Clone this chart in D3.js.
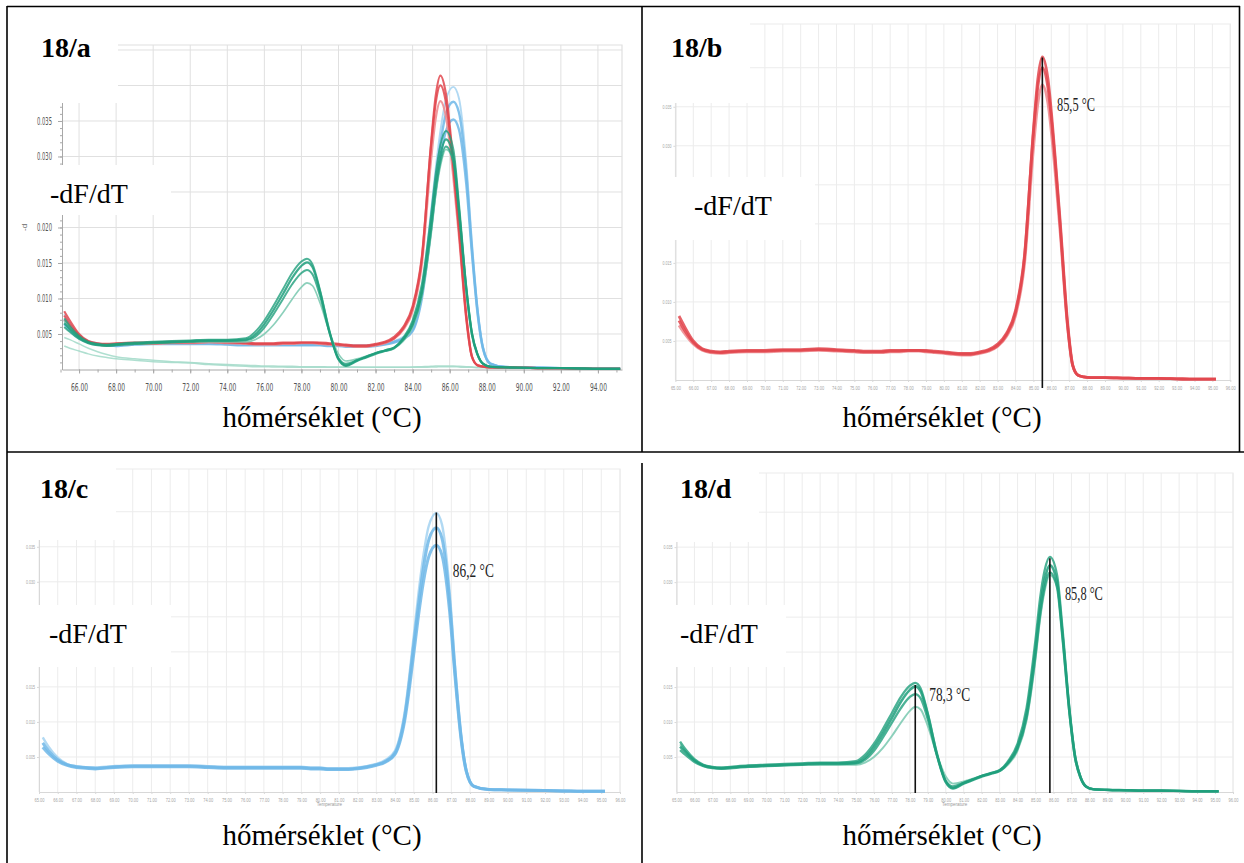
<!DOCTYPE html>
<html lang="hu">
<head>
<meta charset="utf-8" />
<style>
body { margin: 0; background: #fff; }
svg { display: block; }
</style>
</head>
<body>
<script src="https://cdn.jsdelivr.net/npm/d3@7"></script>
<script>
// temperature points (°C) shared by all melt curves
var temps = [65.2, 65.5, 66, 66.5, 67, 67.5, 68,
             69, 70, 71, 72, 73, 74, 75,
             75.5, 76, 76.5, 77, 77.5, 78,
             78.3, 78.6, 79, 79.5, 80,
             80.4, 81, 81.5, 82, 82.5, 83,
             83.5, 84, 84.5, 85, 85.25,
             85.5, 85.8, 86.2, 86.5, 86.9, 87.2,
             87.5, 87.8, 88.2, 89, 90, 91, 92, 93, 94, 95.2];

// -dF/dT values, in units of 0.001
var red1 = [7.6, 6.4, 4.8, 3.9, 3.6, 3.5, 3.6,
            3.7, 3.7, 3.8, 3.8, 3.9, 3.8, 3.7,
            3.6, 3.6, 3.6, 3.7, 3.7, 3.8,
            3.8, 3.8, 3.7, 3.6, 3.5,
            3.4, 3.3, 3.3, 3.5, 3.8, 4.4,
            5.8, 8.6, 15.6, 32.0, 38.6,
            41.4, 38.8, 29.0, 20.2, 7.6, 1.9,
            0.6, 0.4, 0.3, 0.3, 0.25, 0.2, 0.2, 0.15, 0.1, 0.1];
var red2 = [8.2, 6.9, 5.0, 4.0, 3.7, 3.6, 3.7,
            3.8, 3.8, 3.9, 3.9, 4.0, 3.9, 3.8,
            3.7, 3.7, 3.7, 3.8, 3.8, 3.8,
            3.8, 3.8, 3.8, 3.7, 3.6,
            3.5, 3.4, 3.4, 3.6, 3.9, 4.6,
            6.0, 8.9, 15.9, 31.6, 37.6,
            40.0, 37.6, 28.4, 19.6, 7.2, 1.8,
            0.6, 0.4, 0.3, 0.3, 0.25, 0.2, 0.2, 0.15, 0.1, 0.1];
var red3 = [7.0, 6.0, 4.6, 3.8, 3.5, 3.4, 3.5,
            3.6, 3.6, 3.7, 3.7, 3.8, 3.7, 3.6,
            3.5, 3.5, 3.5, 3.6, 3.6, 3.7,
            3.7, 3.7, 3.6, 3.5, 3.4,
            3.3, 3.2, 3.2, 3.4, 3.7, 4.3,
            5.6, 8.2, 14.8, 29.6, 35.4,
            37.8, 35.6, 27.0, 18.8, 7.0, 1.8,
            0.6, 0.4, 0.3, 0.3, 0.25, 0.2, 0.2, 0.15, 0.1, 0.1];

var blue1 = [7.0, 5.9, 4.6, 3.9, 3.6, 3.5, 3.4,
             3.6, 3.7, 3.7, 3.7, 3.7, 3.6, 3.5,
             3.5, 3.5, 3.5, 3.5, 3.5, 3.5,
             3.5, 3.5, 3.5, 3.4, 3.4,
             3.3, 3.3, 3.3, 3.4, 3.6, 3.9,
             4.4, 5.6, 10.6, 21.2, 26.8,
             31.8, 36.0, 37.7, 36.2, 27.6, 17.2,
             8.4, 3.0, 0.8, 0.35, 0.3, 0.25, 0.2, 0.15, 0.1, 0.1];
var blue2 = [7.8, 6.5, 4.9, 4.0, 3.7, 3.5, 3.5,
             3.7, 3.8, 3.8, 3.8, 3.8, 3.7, 3.6,
             3.6, 3.6, 3.6, 3.6, 3.6, 3.6,
             3.6, 3.6, 3.6, 3.5, 3.5,
             3.4, 3.4, 3.4, 3.5, 3.7, 4.0,
             4.6, 5.9, 11.2, 22.4, 28.4,
             33.6, 38.0, 39.8, 38.2, 29.0, 18.0,
             8.8, 3.2, 0.9, 0.35, 0.3, 0.25, 0.2, 0.15, 0.1, 0.1];
var blue3 = [6.4, 5.5, 4.4, 3.8, 3.5, 3.4, 3.3,
             3.5, 3.6, 3.6, 3.6, 3.6, 3.5, 3.4,
             3.4, 3.4, 3.4, 3.4, 3.4, 3.4,
             3.4, 3.4, 3.4, 3.3, 3.3,
             3.2, 3.2, 3.2, 3.3, 3.5, 3.8,
             4.3, 5.4, 10.0, 19.8, 25.2,
             29.8, 33.6, 35.2, 33.8, 26.0, 16.4,
             8.0, 2.9, 0.8, 0.35, 0.3, 0.25, 0.2, 0.15, 0.1, 0.1];

var green1 = [6.5, 5.7, 4.5, 3.8, 3.5, 3.4, 3.5,
              3.7, 3.8, 3.9, 4.0, 4.1, 4.1, 4.2,
              4.9, 6.4, 8.4, 10.6, 12.9, 14.6,
              15.1, 14.4, 11.0, 5.4, 1.4,
              0.5, 1.2, 1.7, 2.2, 2.6, 3.0,
              4.3, 6.5, 11.2, 20.6, 26.2,
              30.2, 32.4, 30.0, 22.6, 11.2, 5.0,
              2.1, 0.8, 0.4, 0.3, 0.25, 0.2, 0.2, 0.15, 0.1, 0.1];
var green2 = [7.2, 6.1, 4.7, 3.9, 3.6, 3.5, 3.6,
              3.8, 3.9, 4.0, 4.1, 4.2, 4.2, 4.4,
              5.3, 6.9, 9.0, 11.3, 13.6, 15.2,
              15.6, 14.8, 11.2, 5.6, 1.5,
              0.6, 1.3, 1.8, 2.3, 2.7, 3.1,
              4.5, 6.9, 12.0, 21.8, 27.6,
              31.6, 33.6, 31.0, 23.4, 11.6, 5.2,
              2.2, 0.8, 0.4, 0.3, 0.25, 0.2, 0.2, 0.15, 0.1, 0.1];
var green3 = [6.0, 5.3, 4.3, 3.7, 3.4, 3.3, 3.4,
              3.6, 3.7, 3.8, 3.9, 4.0, 4.0, 4.1,
              4.6, 5.9, 7.8, 9.9, 12.0, 13.6,
              14.0, 13.4, 10.4, 5.3, 1.6,
              0.8, 1.3, 1.8, 2.3, 2.7, 3.1,
              4.2, 6.2, 10.6, 19.6, 25.2,
              29.2, 31.4, 29.2, 22.0, 11.0, 4.9,
              2.1, 0.8, 0.4, 0.3, 0.25, 0.2, 0.2, 0.15, 0.1, 0.1];
var green4 = [6.8, 5.8, 4.5, 3.8, 3.5, 3.4, 3.5,
              3.6, 3.7, 3.8, 3.9, 3.9, 3.9, 3.9,
              4.2, 5.0, 6.3, 8.0, 9.9, 11.6,
              12.2, 11.8, 9.4, 5.4, 2.2,
              1.2, 1.5, 1.9, 2.3, 2.6, 3.0,
              4.0, 5.9, 10.2, 19.0, 24.6,
              28.6, 31.0, 29.4, 22.8, 11.8, 5.4,
              2.3, 0.9, 0.4, 0.3, 0.25, 0.2, 0.2, 0.15, 0.1, 0.1];

// two faint, almost flat green traces only seen in 18/a
var greenFaint1 = [4.5, 4.2, 3.6, 3.0, 2.5, 2.1, 1.8,
                   1.5, 1.3, 1.1, 1.0, 0.8, 0.7, 0.6,
                   0.55, 0.5, 0.5, 0.45, 0.45, 0.4,
                   0.4, 0.4, 0.4, 0.35, 0.35,
                   0.35, 0.35, 0.3, 0.3, 0.3, 0.3,
                   0.3, 0.35, 0.4, 0.45, 0.5,
                   0.5, 0.5, 0.5, 0.45, 0.4, 0.35,
                   0.3, 0.3, 0.25, 0.2, 0.2, 0.2, 0.15, 0.15, 0.1, 0.1];
var greenFaint2 = [3.3, 3.0, 2.6, 2.2, 1.9, 1.7, 1.5,
                   1.3, 1.1, 1.0, 0.9, 0.7, 0.55, 0.45,
                   0.4, 0.4, 0.35, 0.35, 0.3, 0.3,
                   0.3, 0.3, 0.3, 0.3, 0.3,
                   0.3, 0.3, 0.3, 0.3, 0.3, 0.3,
                   0.3, 0.3, 0.3, 0.35, 0.35,
                   0.4, 0.4, 0.4, 0.35, 0.3, 0.3,
                   0.25, 0.25, 0.2, 0.2, 0.2, 0.15, 0.15, 0.1, 0.1, 0.1];

// melting peaks marked in 18/b-d
var peaksB = [{ t: 85.5, top: 41.3, label: "85,5 °C" }];
var peaksC = [{ t: 86.2, top: 39.9, label: "86,2 °C" }];
var peaksD = [{ t: 78.3, top: 15.3, label: "78,3 °C" },
              { t: 85.8, top: 33.4, label: "85,8 °C" }];

var panelLabels = ["18/a", "18/b", "18/c", "18/d"];
var yLabel = "-dF/dT";
var xLabel = "hőmérséklet (°C)";

// tick values (grid lines) and the tick labels that are left visible
var xTicksA = d3.range(66, 95, 2);
var xTicksFine = d3.range(65, 97, 1);
var yGridA = [5, 10, 15, 20, 25, 30, 35, 40, 45];
var yLabelsA = [5, 10, 15, 20, 30, 35];
var yGridFine = [5, 10, 15, 20, 25, 30, 35, 40];
var yLabelsFine = [5, 10, 15, 30, 35];

var SERIF = "Liberation Serif, Times New Roman, DejaVu Serif, serif";
var RED = "#e2464d", RED_L = "#ef8d91",
    BLUE = "#6fb7e7", BLUE_L = "#a8d5f2",
    GREEN = "#1f9f7c", GREEN_L = "#7fcbb4", GREEN_F = "#a6dccb";

function redSeries(w) {
  return [{ v: red3, c: RED_L, w: w, o: 0.9 },
          { v: red2, c: RED, w: w, o: 0.85 },
          { v: red1, c: RED, w: w, o: 0.85 }];
}
function blueSeries(w) {
  return [{ v: blue2, c: BLUE_L, w: w * 0.8, o: 0.9 },
          { v: blue3, c: BLUE, w: w, o: 0.85 },
          { v: blue1, c: BLUE, w: w, o: 0.85 }];
}
function greenSeries(w) {
  return [{ v: green4, c: GREEN_L, w: w * 0.75, o: 0.9 },
          { v: green3, c: GREEN, w: w * 0.9, o: 0.8 },
          { v: green1, c: GREEN, w: w, o: 0.85 },
          { v: green2, c: GREEN, w: w * 0.9, o: 0.8 }];
}
var faintSeries = [
  { v: greenFaint1, c: GREEN_F, w: 1.5, o: 0.9 },
  { v: greenFaint2, c: GREEN_F, w: 1.5, o: 0.9 }
];

var W = 1244, H = 863;
var svg = d3.select("body").append("svg").attr("width", W).attr("height", H);
svg.append("rect").attr("width", W).attr("height", H).attr("fill", "#fff");

function drawPanel(p) {
  var g = svg.append("g");
  var x = d3.scaleLinear().domain(p.xDomain).range(p.xRange);
  var y = d3.scaleLinear().domain(p.yDomain).range(p.yRange);
  var x0 = p.xRange[0], x1 = p.xRange[1], yb = p.yRange[0], yt = p.yRange[1];

  // grid
  g.append("g").selectAll("line").data(p.xGrid).join("line")
    .attr("x1", function (d) { return x(d); }).attr("x2", function (d) { return x(d); })
    .attr("y1", yt).attr("y2", yb)
    .attr("stroke", p.gridColor).attr("stroke-width", 1);
  g.append("g").selectAll("line").data(p.yGrid).join("line")
    .attr("x1", x0).attr("x2", x1)
    .attr("y1", function (d) { return y(d); }).attr("y2", function (d) { return y(d); })
    .attr("stroke", p.gridColor).attr("stroke-width", 1);
  g.append("path")
    .attr("d", "M" + x0 + "," + yt + "H" + x1 + "V" + yb)
    .attr("fill", "none").attr("stroke", p.gridColor).attr("stroke-width", 1.2);

  // axes
  var gx = g.append("g").attr("transform", "translate(0," + yb + ")")
    .call(d3.axisBottom(x).tickValues(p.xTicks)
      .tickFormat(function (d) { return d.toFixed(2); })
      .tickSize(p.tickSize).tickSizeOuter(0).tickPadding(p.xPad));
  var gy = g.append("g").attr("transform", "translate(" + x0 + ",0)")
    .call(d3.axisLeft(y).tickValues(p.yLabels)
      .tickFormat(function (d) { return (d / 1000).toFixed(3); })
      .tickSize(p.tickSize).tickSizeOuter(0).tickPadding(p.yPad));
  [gx, gy].forEach(function (a) {
    a.attr("font-family", p.tickFont).attr("font-size", p.tickFontSize);
    a.select(".domain").attr("stroke", p.axisColor);
    a.selectAll(".tick line").attr("stroke", p.axisColor);
    a.selectAll(".tick text").attr("fill", p.tickColor);
  });
  gx.selectAll(".tick text").attr("textLength", p.xLabelW).attr("lengthAdjust", "spacingAndGlyphs");
  gy.selectAll(".tick text").attr("textLength", p.yLabelW).attr("lengthAdjust", "spacingAndGlyphs");

  if (p.minor) {
    g.append("g").attr("transform", "translate(0," + yb + ")")
      .call(d3.axisBottom(x).tickValues(p.minor.x).tickFormat("").tickSize(3).tickSizeOuter(0))
      .call(function (a) { a.select(".domain").remove(); a.selectAll("line").attr("stroke", p.axisColor); });
    g.append("g").attr("transform", "translate(" + x0 + ",0)")
      .call(d3.axisLeft(y).tickValues(p.minor.y).tickFormat("").tickSize(2).tickSizeOuter(0))
      .call(function (a) { a.select(".domain").remove(); a.selectAll("line").attr("stroke", p.axisColor); });
  }

  if (p.axisTitle) {
    g.append("text").attr("x", (x0 + x1) / 2).attr("y", yb + p.axisTitle.dy)
      .attr("text-anchor", "middle").attr("font-family", "Liberation Sans, sans-serif")
      .attr("font-size", 4.5).attr("fill", "#999").text("Temperature");
  }
  if (p.rotLabel) {
    g.append("text").attr("transform", "translate(" + p.rotLabel[0] + "," + p.rotLabel[1] + ") rotate(-90)")
      .attr("font-family", "Liberation Sans, sans-serif").attr("font-size", 8).attr("fill", "#666")
      .text("-d");
  }

  // curves
  var line = d3.line()
    .x(function (d, i) { return x(temps[i]); })
    .y(function (d) { return y(d); })
    .curve(d3.curveMonotoneX);
  g.append("g").selectAll("path").data(p.series).join("path")
    .attr("d", function (s) { return line(s.v); })
    .attr("fill", "none")
    .attr("stroke", function (s) { return s.c; })
    .attr("stroke-width", function (s) { return s.w; })
    .attr("stroke-opacity", function (s) { return s.o; })
    .attr("stroke-linejoin", "round");

  // peak markers
  (p.peaks || []).forEach(function (m, i) {
    var lay = p.peakLayout[i];
    g.append("line")
      .attr("x1", x(m.t)).attr("x2", x(m.t))
      .attr("y1", y(m.top)).attr("y2", yb + lay.below)
      .attr("stroke", "#111").attr("stroke-width", 1.6);
    g.append("text")
      .attr("x", x(m.t) + lay.dx).attr("y", y(m.top) + lay.dy)
      .attr("font-family", SERIF).attr("font-size", 18).attr("fill", "#222")
      .attr("textLength", lay.w).attr("lengthAdjust", "spacingAndGlyphs")
      .text(m.label);
  });

  // white label boxes
  g.append("g").selectAll("rect").data(p.boxes).join("rect")
    .attr("x", function (b) { return b[0]; }).attr("y", function (b) { return b[1]; })
    .attr("width", function (b) { return b[2]; }).attr("height", function (b) { return b[3]; })
    .attr("fill", "#fff");

  g.append("text").attr("font-family", SERIF).attr("font-weight", "bold").attr("font-size", 28)
    .attr("x", p.title[0]).attr("y", p.title[1]).text(p.name);
  g.append("text").attr("font-family", SERIF).attr("font-size", 28)
    .attr("x", p.yTitle[0]).attr("y", p.yTitle[1]).text(yLabel);
  g.append("text").attr("font-family", SERIF).attr("font-size", 29).attr("text-anchor", "middle")
    .attr("x", p.xTitle[0]).attr("y", p.xTitle[1]).text(xLabel);
}

var fine = {
  tickSize: 2, xPad: 4, yPad: 2, tickFont: "Liberation Sans, sans-serif", tickFontSize: 5,
  tickColor: "#a5a5a5", axisColor: "#d8d8d8", gridColor: "#ececec", xLabelW: 10, yLabelW: 9,
  xTicks: xTicksFine, xGrid: xTicksFine, yLabels: yLabelsFine, yGrid: yGridFine
};

drawPanel({
  name: panelLabels[0],
  xDomain: [65.08, 95.3], xRange: [62, 622], yDomain: [0, 45.7], yRange: [369.5, 45],
  xTicks: xTicksA, xGrid: xTicksA, yLabels: yLabelsA, yGrid: yGridA,
  minor: { x: d3.range(65, 96, 1), y: d3.range(1, 46, 1) },
  tickSize: 4, xPad: 10, yPad: 6, tickFont: "Liberation Sans Narrow, DejaVu Sans Condensed, sans-serif",
  tickFontSize: 10, tickColor: "#555", axisColor: "#a8a8a8", gridColor: "#e0e0e0",
  xLabelW: 17, yLabelW: 15,
  rotLabel: [27, 231],
  series: faintSeries.concat(blueSeries(2.4), redSeries(2.2), greenSeries(2.2)),
  boxes: [[8, 8, 110, 95], [18, 165, 153, 50]],
  title: [41, 57], yTitle: [50, 203], xTitle: [322, 427]
});

drawPanel(Object.assign({}, fine, {
  name: panelLabels[1],
  xDomain: [65, 96], xRange: [675.4, 1230.3], yDomain: [0, 45.6], yRange: [380, 24],
  series: redSeries(2.8),
  peaks: peaksB, peakLayout: [{ dx: 14.6, dy: 53, w: 38, below: 8 }],
  boxes: [[643, 8, 107, 95], [643, 177, 172, 63]],
  title: [671, 57], yTitle: [694, 215], xTitle: [942, 427]
}));

drawPanel(Object.assign({}, fine, {
  name: panelLabels[2],
  xDomain: [65, 96], xRange: [39, 620], yDomain: [0, 46.1], yRange: [792, 469],
  series: blueSeries(3), axisTitle: { dy: 14 },
  peaks: peaksC, peakLayout: [{ dx: 16.5, dy: 65, w: 41, below: 1 }],
  boxes: [[8, 463, 108, 77], [8, 605, 163, 62], [8, 813, 633, 50]],
  title: [40, 498], yTitle: [49, 643], xTitle: [322, 845]
}));

drawPanel(Object.assign({}, fine, {
  name: panelLabels[3],
  xDomain: [65, 96], xRange: [676.5, 1233], yDomain: [0, 45.6], yRange: [792, 473],
  series: greenSeries(2.6), axisTitle: { dy: 14 },
  peaks: peaksD, peakLayout: [{ dx: 14, dy: 16, w: 41, below: 1 }, { dx: 15, dy: 42, w: 38, below: 1 }],
  boxes: [[643, 463, 116, 79], [643, 605, 143, 62], [643, 813, 601, 50]],
  title: [680, 498], yTitle: [680, 643], xTitle: [942, 845]
}));

// table rules
var rules = svg.append("g").attr("stroke", "#000").attr("stroke-width", 1.6);
[[7, 6.5, 1240, 6.5], [7, 452, 1244, 452], [7, 6, 7, 863], [1239.5, 6, 1239.5, 452],
 [642, 6, 642, 452], [642, 463, 642, 863]].forEach(function (r) {
  rules.append("line").attr("x1", r[0]).attr("y1", r[1]).attr("x2", r[2]).attr("y2", r[3]);
});
</script>
</body>
</html>
